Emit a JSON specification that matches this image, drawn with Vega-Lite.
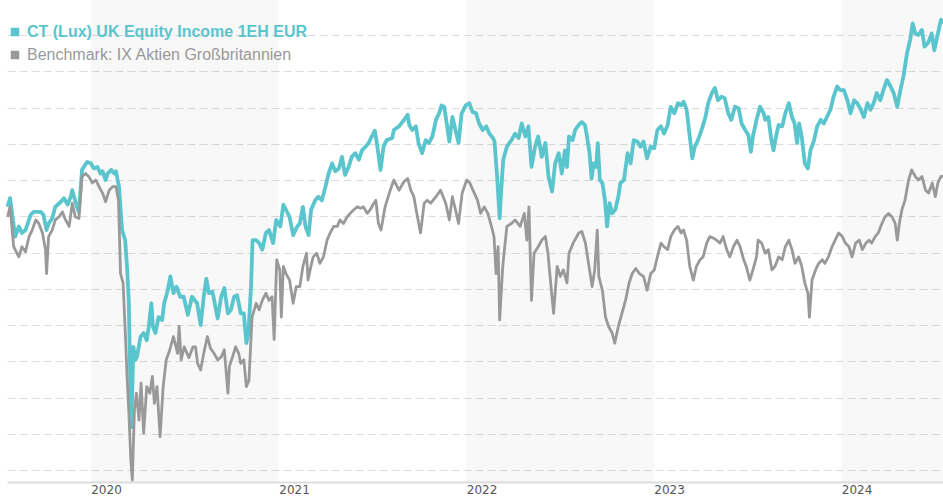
{
  "$schema": "https://vega.github.io/schema/vega-lite/v6.json",
  "width": 936,
  "height": 482,
  "padding": {"left": 7, "top": 0, "right": 0, "bottom": 18},
  "autosize": {"type": "none"},
  "background": "#ffffff",
  "config": {"view": {"stroke": null}, "font": "Liberation Sans"},
  "datasets": {
    "bands": [
      {"start": "2020-01-01", "end": "2021-01-01"},
      {"start": "2022-01-01", "end": "2023-01-01"},
      {"start": "2024-01-01", "end": "2024-07-17"}
    ],
    "fund": [
      {"date":"2019-07-23","value":101.3},{"date":"2019-07-28","value":102.5},{"date":"2019-08-07","value":97.2},{"date":"2019-08-14","value":98.6},{"date":"2019-08-20","value":97.7},{"date":"2019-08-27","value":98.1},{"date":"2019-09-06","value":100.2},{"date":"2019-09-12","value":100.6},{"date":"2019-09-26","value":100.6},{"date":"2019-10-01","value":100.2},{"date":"2019-10-07","value":98.1},{"date":"2019-10-11","value":99.0},{"date":"2019-10-18","value":99.7},{"date":"2019-10-24","value":101.3},{"date":"2019-11-04","value":102.0},{"date":"2019-11-10","value":102.5},{"date":"2019-11-17","value":101.6},{"date":"2019-11-23","value":102.7},{"date":"2019-11-26","value":103.6},{"date":"2019-12-05","value":101.3},{"date":"2019-12-09","value":100.6},{"date":"2019-12-15","value":106.4},{"date":"2019-12-25","value":107.5},
      {"date":"2020-01-01","value":107.3},{"date":"2020-01-07","value":106.6},{"date":"2020-01-14","value":106.8},{"date":"2020-01-20","value":105.9},{"date":"2020-01-24","value":106.2},{"date":"2020-01-30","value":105.0},{"date":"2020-02-03","value":105.9},{"date":"2020-02-10","value":106.4},{"date":"2020-02-16","value":105.9},{"date":"2020-02-19","value":106.2},{"date":"2020-02-25","value":104.1},{"date":"2020-03-02","value":98.1},{"date":"2020-03-08","value":96.7},{"date":"2020-03-12","value":92.6},{"date":"2020-03-15","value":88.4},{"date":"2020-03-18","value":77.4},{"date":"2020-03-20","value":70.9},{"date":"2020-03-24","value":82.0},{"date":"2020-03-28","value":80.2},{"date":"2020-03-31","value":80.6},{"date":"2020-04-07","value":83.4},{"date":"2020-04-13","value":83.9},{"date":"2020-04-19","value":82.9},{"date":"2020-04-23","value":84.8},{"date":"2020-04-28","value":88.0},{"date":"2020-05-01","value":84.8},{"date":"2020-05-06","value":83.9},{"date":"2020-05-12","value":86.1},{"date":"2020-05-19","value":85.7},{"date":"2020-05-23","value":88.0},{"date":"2020-05-30","value":89.8},{"date":"2020-06-04","value":91.7},{"date":"2020-06-10","value":89.4},{"date":"2020-06-16","value":90.3},{"date":"2020-06-23","value":88.9},{"date":"2020-06-30","value":88.9},{"date":"2020-07-08","value":86.4},{"date":"2020-07-16","value":88.9},{"date":"2020-07-26","value":88.0},{"date":"2020-08-02","value":85.0},{"date":"2020-08-08","value":88.9},{"date":"2020-08-13","value":91.4},{"date":"2020-08-18","value":89.4},{"date":"2020-08-25","value":89.6},{"date":"2020-09-04","value":85.9},{"date":"2020-09-11","value":88.9},{"date":"2020-09-17","value":90.1},{"date":"2020-09-24","value":86.6},{"date":"2020-09-30","value":87.1},{"date":"2020-10-06","value":88.9},{"date":"2020-10-12","value":89.1},{"date":"2020-10-19","value":86.6},{"date":"2020-10-25","value":86.6},{"date":"2020-10-30","value":82.5},{"date":"2020-11-03","value":83.9},{"date":"2020-11-08","value":90.3},{"date":"2020-11-11","value":96.7},{"date":"2020-11-18","value":96.7},{"date":"2020-11-24","value":96.3},{"date":"2020-11-30","value":95.4},{"date":"2020-12-07","value":97.7},{"date":"2020-12-13","value":98.1},{"date":"2020-12-21","value":96.3},{"date":"2020-12-27","value":99.5},
      {"date":"2021-01-04","value":98.6},{"date":"2021-01-10","value":101.6},{"date":"2021-01-15","value":100.9},{"date":"2021-01-22","value":99.9},{"date":"2021-01-29","value":97.4},{"date":"2021-02-06","value":98.6},{"date":"2021-02-11","value":99.0},{"date":"2021-02-17","value":101.3},{"date":"2021-02-22","value":98.6},{"date":"2021-02-28","value":97.4},{"date":"2021-03-05","value":100.9},{"date":"2021-03-13","value":102.2},{"date":"2021-03-19","value":102.7},{"date":"2021-03-26","value":102.2},{"date":"2021-04-02","value":104.1},{"date":"2021-04-08","value":105.9},{"date":"2021-04-15","value":107.3},{"date":"2021-04-21","value":106.2},{"date":"2021-04-28","value":106.6},{"date":"2021-05-04","value":108.2},{"date":"2021-05-10","value":105.7},{"date":"2021-05-17","value":106.8},{"date":"2021-05-23","value":108.2},{"date":"2021-05-30","value":108.7},{"date":"2021-06-06","value":107.8},{"date":"2021-06-12","value":109.1},{"date":"2021-06-19","value":109.6},{"date":"2021-06-25","value":110.1},{"date":"2021-07-01","value":111.0},{"date":"2021-07-07","value":111.8},{"date":"2021-07-12","value":109.6},{"date":"2021-07-18","value":106.4},{"date":"2021-07-24","value":109.6},{"date":"2021-07-30","value":110.5},{"date":"2021-08-10","value":110.8},{"date":"2021-08-13","value":111.9},{"date":"2021-08-23","value":112.4},{"date":"2021-09-02","value":113.3},{"date":"2021-09-09","value":114.0},{"date":"2021-09-12","value":112.6},{"date":"2021-09-18","value":111.9},{"date":"2021-09-25","value":112.4},{"date":"2021-09-30","value":110.1},{"date":"2021-10-07","value":108.7},{"date":"2021-10-14","value":110.5},{"date":"2021-10-20","value":110.1},{"date":"2021-10-27","value":111.0},{"date":"2021-11-03","value":113.3},{"date":"2021-11-09","value":114.2},{"date":"2021-11-14","value":115.3},{"date":"2021-11-19","value":115.1},{"date":"2021-11-24","value":112.8},{"date":"2021-11-29","value":110.3},{"date":"2021-12-05","value":113.7},{"date":"2021-12-11","value":111.9},{"date":"2021-12-17","value":110.1},{"date":"2021-12-23","value":114.2},{"date":"2021-12-31","value":115.3},
      {"date":"2022-01-07","value":115.6},{"date":"2022-01-13","value":114.4},{"date":"2022-01-20","value":114.2},{"date":"2022-01-26","value":112.8},{"date":"2022-02-02","value":111.9},{"date":"2022-02-09","value":112.4},{"date":"2022-02-15","value":111.4},{"date":"2022-02-22","value":110.8},{"date":"2022-02-25","value":110.3},{"date":"2022-03-02","value":105.5},{"date":"2022-03-07","value":99.7},{"date":"2022-03-10","value":103.6},{"date":"2022-03-14","value":107.8},{"date":"2022-03-21","value":109.6},{"date":"2022-03-30","value":110.5},{"date":"2022-04-06","value":111.4},{"date":"2022-04-13","value":110.8},{"date":"2022-04-19","value":112.8},{"date":"2022-04-26","value":111.0},{"date":"2022-05-02","value":112.4},{"date":"2022-05-08","value":106.8},{"date":"2022-05-15","value":109.6},{"date":"2022-05-21","value":111.0},{"date":"2022-05-28","value":108.2},{"date":"2022-06-04","value":110.1},{"date":"2022-06-10","value":105.5},{"date":"2022-06-17","value":103.4},{"date":"2022-06-23","value":107.3},{"date":"2022-06-30","value":108.7},{"date":"2022-07-06","value":105.9},{"date":"2022-07-12","value":109.1},{"date":"2022-07-16","value":106.8},{"date":"2022-07-20","value":111.0},{"date":"2022-07-27","value":110.5},{"date":"2022-08-01","value":111.9},{"date":"2022-08-08","value":112.6},{"date":"2022-08-14","value":113.0},{"date":"2022-08-20","value":112.6},{"date":"2022-08-24","value":111.0},{"date":"2022-08-29","value":108.7},{"date":"2022-09-02","value":105.2},{"date":"2022-09-06","value":107.3},{"date":"2022-09-11","value":106.8},{"date":"2022-09-14","value":110.1},{"date":"2022-09-18","value":105.0},{"date":"2022-09-23","value":104.6},{"date":"2022-09-28","value":102.2},{"date":"2022-10-02","value":98.6},{"date":"2022-10-07","value":101.8},{"date":"2022-10-12","value":100.4},{"date":"2022-10-18","value":100.9},{"date":"2022-10-24","value":102.7},{"date":"2022-10-28","value":104.6},{"date":"2022-11-04","value":105.0},{"date":"2022-11-11","value":108.7},{"date":"2022-11-17","value":107.3},{"date":"2022-11-23","value":110.5},{"date":"2022-11-30","value":110.3},{"date":"2022-12-06","value":109.6},{"date":"2022-12-12","value":110.3},{"date":"2022-12-19","value":108.0},{"date":"2022-12-26","value":109.6},
      {"date":"2023-01-02","value":109.4},{"date":"2023-01-08","value":111.9},{"date":"2023-01-15","value":112.4},{"date":"2023-01-21","value":111.4},{"date":"2023-01-28","value":112.6},{"date":"2023-02-03","value":115.1},{"date":"2023-02-10","value":114.2},{"date":"2023-02-17","value":115.6},{"date":"2023-02-23","value":115.3},{"date":"2023-02-28","value":115.8},{"date":"2023-03-06","value":114.7},{"date":"2023-03-12","value":111.0},{"date":"2023-03-17","value":108.0},{"date":"2023-03-22","value":109.6},{"date":"2023-03-28","value":110.5},{"date":"2023-04-04","value":111.9},{"date":"2023-04-11","value":113.5},{"date":"2023-04-17","value":115.6},{"date":"2023-04-24","value":117.0},{"date":"2023-04-30","value":117.7},{"date":"2023-05-06","value":116.0},{"date":"2023-05-13","value":116.5},{"date":"2023-05-19","value":116.3},{"date":"2023-05-26","value":114.2},{"date":"2023-06-01","value":113.3},{"date":"2023-06-08","value":115.1},{"date":"2023-06-15","value":114.9},{"date":"2023-06-21","value":112.8},{"date":"2023-06-28","value":111.9},{"date":"2023-07-04","value":111.2},{"date":"2023-07-09","value":108.9},{"date":"2023-07-13","value":111.0},{"date":"2023-07-20","value":113.3},{"date":"2023-07-27","value":115.1},{"date":"2023-08-03","value":114.2},{"date":"2023-08-06","value":113.3},{"date":"2023-08-12","value":113.7},{"date":"2023-08-18","value":110.5},{"date":"2023-08-22","value":109.1},{"date":"2023-08-27","value":111.0},{"date":"2023-09-01","value":112.6},{"date":"2023-09-08","value":112.4},{"date":"2023-09-14","value":114.2},{"date":"2023-09-21","value":115.6},{"date":"2023-09-27","value":113.7},{"date":"2023-10-02","value":112.8},{"date":"2023-10-07","value":110.1},{"date":"2023-10-11","value":112.8},{"date":"2023-10-16","value":111.0},{"date":"2023-10-22","value":107.3},{"date":"2023-10-28","value":106.6},{"date":"2023-11-02","value":109.1},{"date":"2023-11-09","value":110.5},{"date":"2023-11-15","value":112.4},{"date":"2023-11-22","value":113.3},{"date":"2023-11-28","value":112.8},{"date":"2023-12-04","value":113.7},{"date":"2023-12-11","value":114.7},{"date":"2023-12-17","value":116.5},{"date":"2023-12-24","value":117.9},{"date":"2023-12-30","value":117.4},
      {"date":"2024-01-06","value":117.4},{"date":"2024-01-13","value":116.0},{"date":"2024-01-19","value":114.2},{"date":"2024-01-26","value":116.0},{"date":"2024-02-01","value":115.6},{"date":"2024-02-08","value":114.7},{"date":"2024-02-14","value":113.7},{"date":"2024-02-21","value":115.6},{"date":"2024-02-27","value":114.7},{"date":"2024-03-04","value":115.6},{"date":"2024-03-10","value":117.0},{"date":"2024-03-17","value":116.0},{"date":"2024-03-23","value":117.4},{"date":"2024-03-30","value":118.8},{"date":"2024-04-06","value":117.9},{"date":"2024-04-12","value":117.0},{"date":"2024-04-19","value":115.1},{"date":"2024-04-25","value":117.4},{"date":"2024-05-01","value":119.3},{"date":"2024-05-08","value":122.5},{"date":"2024-05-14","value":124.3},{"date":"2024-05-19","value":126.6},{"date":"2024-05-24","value":125.2},{"date":"2024-05-30","value":125.0},{"date":"2024-06-06","value":125.7},{"date":"2024-06-11","value":123.4},{"date":"2024-06-18","value":123.9},{"date":"2024-06-25","value":125.2},{"date":"2024-06-30","value":122.9},{"date":"2024-07-07","value":125.2},{"date":"2024-07-13","value":127.1},{"date":"2024-07-17","value":126.6}
    ],
    "bench": [
      {"date":"2019-07-23","value":99.9},{"date":"2019-07-28","value":101.3},{"date":"2019-08-04","value":95.8},{"date":"2019-08-14","value":94.4},{"date":"2019-08-20","value":95.8},{"date":"2019-08-27","value":95.1},{"date":"2019-09-03","value":97.2},{"date":"2019-09-09","value":98.1},{"date":"2019-09-16","value":99.5},{"date":"2019-09-22","value":99.0},{"date":"2019-09-29","value":97.7},{"date":"2019-10-05","value":95.4},{"date":"2019-10-07","value":92.1},{"date":"2019-10-11","value":97.2},{"date":"2019-10-18","value":98.1},{"date":"2019-10-24","value":99.5},{"date":"2019-10-31","value":99.9},{"date":"2019-11-07","value":100.6},{"date":"2019-11-13","value":99.5},{"date":"2019-11-20","value":98.6},{"date":"2019-11-26","value":101.8},{"date":"2019-12-02","value":99.9},{"date":"2019-12-09","value":99.7},{"date":"2019-12-15","value":105.5},{"date":"2019-12-22","value":105.9},{"date":"2019-12-28","value":105.5},
      {"date":"2020-01-04","value":104.6},{"date":"2020-01-11","value":105.0},{"date":"2020-01-17","value":104.1},{"date":"2020-01-24","value":103.2},{"date":"2020-01-30","value":102.0},{"date":"2020-02-06","value":103.6},{"date":"2020-02-13","value":104.1},{"date":"2020-02-19","value":104.1},{"date":"2020-02-24","value":102.2},{"date":"2020-02-28","value":92.1},{"date":"2020-03-04","value":90.8},{"date":"2020-03-09","value":82.8},{"date":"2020-03-12","value":77.4},{"date":"2020-03-15","value":73.3},{"date":"2020-03-19","value":66.4},{"date":"2020-03-22","value":63.6},{"date":"2020-03-26","value":73.3},{"date":"2020-03-30","value":75.6},{"date":"2020-04-04","value":71.9},{"date":"2020-04-08","value":77.0},{"date":"2020-04-13","value":70.1},{"date":"2020-04-19","value":76.5},{"date":"2020-04-25","value":75.6},{"date":"2020-04-30","value":77.9},{"date":"2020-05-04","value":74.2},{"date":"2020-05-09","value":76.5},{"date":"2020-05-15","value":69.6},{"date":"2020-05-21","value":76.5},{"date":"2020-05-27","value":80.2},{"date":"2020-06-03","value":81.6},{"date":"2020-06-10","value":83.4},{"date":"2020-06-18","value":81.1},{"date":"2020-06-21","value":84.8},{"date":"2020-06-25","value":80.2},{"date":"2020-07-01","value":82.0},{"date":"2020-07-10","value":80.5},{"date":"2020-07-18","value":82.0},{"date":"2020-07-23","value":82.0},{"date":"2020-07-27","value":79.7},{"date":"2020-08-02","value":78.8},{"date":"2020-08-08","value":81.1},{"date":"2020-08-15","value":83.4},{"date":"2020-08-21","value":81.8},{"date":"2020-08-28","value":81.1},{"date":"2020-09-04","value":80.2},{"date":"2020-09-11","value":80.6},{"date":"2020-09-17","value":81.6},{"date":"2020-09-24","value":75.6},{"date":"2020-09-27","value":79.3},{"date":"2020-10-03","value":80.6},{"date":"2020-10-09","value":82.0},{"date":"2020-10-15","value":81.1},{"date":"2020-10-19","value":79.7},{"date":"2020-10-25","value":80.2},{"date":"2020-10-30","value":76.5},{"date":"2020-11-04","value":77.4},{"date":"2020-11-10","value":86.1},{"date":"2020-11-18","value":88.0},{"date":"2020-11-24","value":87.1},{"date":"2020-11-30","value":88.4},{"date":"2020-12-07","value":89.4},{"date":"2020-12-13","value":88.4},{"date":"2020-12-19","value":88.9},{"date":"2020-12-23","value":83.0},{"date":"2020-12-28","value":94.0},
      {"date":"2021-01-03","value":92.6},{"date":"2021-01-06","value":86.1},{"date":"2021-01-10","value":93.1},{"date":"2021-01-15","value":92.1},{"date":"2021-01-22","value":91.2},{"date":"2021-01-29","value":88.0},{"date":"2021-02-04","value":90.3},{"date":"2021-02-11","value":90.3},{"date":"2021-02-17","value":93.1},{"date":"2021-02-24","value":94.9},{"date":"2021-02-27","value":91.2},{"date":"2021-03-03","value":92.6},{"date":"2021-03-09","value":94.4},{"date":"2021-03-16","value":94.9},{"date":"2021-03-22","value":93.5},{"date":"2021-03-29","value":94.4},{"date":"2021-04-05","value":96.7},{"date":"2021-04-11","value":97.7},{"date":"2021-04-18","value":98.6},{"date":"2021-04-25","value":98.6},{"date":"2021-04-30","value":99.5},{"date":"2021-05-07","value":99.0},{"date":"2021-05-14","value":99.9},{"date":"2021-05-20","value":100.4},{"date":"2021-05-27","value":100.9},{"date":"2021-06-03","value":101.3},{"date":"2021-06-09","value":101.1},{"date":"2021-06-15","value":101.3},{"date":"2021-06-22","value":100.4},{"date":"2021-06-28","value":100.9},{"date":"2021-07-05","value":101.8},{"date":"2021-07-09","value":102.2},{"date":"2021-07-14","value":99.0},{"date":"2021-07-19","value":98.1},{"date":"2021-07-27","value":101.3},{"date":"2021-08-06","value":103.6},{"date":"2021-08-13","value":105.0},{"date":"2021-08-23","value":103.6},{"date":"2021-09-02","value":104.8},{"date":"2021-09-09","value":105.2},{"date":"2021-09-15","value":103.6},{"date":"2021-09-21","value":102.7},{"date":"2021-09-28","value":99.9},{"date":"2021-10-04","value":97.7},{"date":"2021-10-11","value":101.8},{"date":"2021-10-17","value":102.2},{"date":"2021-10-24","value":101.8},{"date":"2021-11-03","value":102.7},{"date":"2021-11-12","value":103.6},{"date":"2021-11-22","value":101.8},{"date":"2021-11-29","value":99.5},{"date":"2021-12-05","value":102.7},{"date":"2021-12-11","value":100.9},{"date":"2021-12-17","value":99.0},{"date":"2021-12-24","value":103.2},
      {"date":"2022-01-02","value":105.0},{"date":"2022-01-08","value":104.6},{"date":"2022-01-14","value":103.6},{"date":"2022-01-23","value":102.2},{"date":"2022-01-29","value":100.4},{"date":"2022-02-05","value":101.3},{"date":"2022-02-12","value":100.4},{"date":"2022-02-19","value":98.6},{"date":"2022-02-24","value":97.2},{"date":"2022-02-28","value":92.1},{"date":"2022-03-04","value":95.8},{"date":"2022-03-07","value":85.7},{"date":"2022-03-13","value":93.1},{"date":"2022-03-21","value":98.6},{"date":"2022-03-30","value":99.0},{"date":"2022-04-06","value":99.5},{"date":"2022-04-16","value":98.6},{"date":"2022-04-24","value":100.4},{"date":"2022-04-29","value":96.7},{"date":"2022-05-03","value":101.3},{"date":"2022-05-08","value":88.4},{"date":"2022-05-13","value":94.9},{"date":"2022-05-21","value":95.8},{"date":"2022-05-28","value":96.7},{"date":"2022-06-04","value":97.2},{"date":"2022-06-09","value":94.9},{"date":"2022-06-15","value":90.3},{"date":"2022-06-20","value":86.6},{"date":"2022-06-27","value":93.1},{"date":"2022-07-03","value":91.7},{"date":"2022-07-09","value":92.6},{"date":"2022-07-16","value":90.8},{"date":"2022-07-20","value":94.9},{"date":"2022-07-28","value":96.3},{"date":"2022-08-08","value":97.7},{"date":"2022-08-14","value":97.9},{"date":"2022-08-21","value":96.3},{"date":"2022-08-27","value":93.5},{"date":"2022-09-03","value":90.3},{"date":"2022-09-08","value":92.6},{"date":"2022-09-13","value":98.1},{"date":"2022-09-16","value":91.7},{"date":"2022-09-23","value":89.8},{"date":"2022-09-29","value":86.1},{"date":"2022-10-05","value":84.8},{"date":"2022-10-12","value":83.9},{"date":"2022-10-17","value":82.5},{"date":"2022-10-24","value":84.8},{"date":"2022-10-31","value":86.6},{"date":"2022-11-07","value":88.4},{"date":"2022-11-14","value":90.8},{"date":"2022-11-20","value":92.1},{"date":"2022-11-27","value":92.8},{"date":"2022-12-04","value":92.1},{"date":"2022-12-12","value":91.7},{"date":"2022-12-19","value":89.8},{"date":"2022-12-26","value":92.1},
      {"date":"2023-01-02","value":92.6},{"date":"2023-01-08","value":94.4},{"date":"2023-01-15","value":96.3},{"date":"2023-01-21","value":95.8},{"date":"2023-01-28","value":95.4},{"date":"2023-02-03","value":97.2},{"date":"2023-02-10","value":98.1},{"date":"2023-02-17","value":98.6},{"date":"2023-02-23","value":97.7},{"date":"2023-02-28","value":98.1},{"date":"2023-03-06","value":96.7},{"date":"2023-03-12","value":93.1},{"date":"2023-03-19","value":91.2},{"date":"2023-03-25","value":93.1},{"date":"2023-04-01","value":94.0},{"date":"2023-04-07","value":94.4},{"date":"2023-04-14","value":96.3},{"date":"2023-04-20","value":97.2},{"date":"2023-04-27","value":97.0},{"date":"2023-05-03","value":96.7},{"date":"2023-05-10","value":96.3},{"date":"2023-05-16","value":97.2},{"date":"2023-05-23","value":95.4},{"date":"2023-05-29","value":94.4},{"date":"2023-06-05","value":95.8},{"date":"2023-06-12","value":96.7},{"date":"2023-06-18","value":95.8},{"date":"2023-06-25","value":94.0},{"date":"2023-06-30","value":93.1},{"date":"2023-07-07","value":91.2},{"date":"2023-07-13","value":92.6},{"date":"2023-07-20","value":94.4},{"date":"2023-07-23","value":96.7},{"date":"2023-07-30","value":96.3},{"date":"2023-08-06","value":94.9},{"date":"2023-08-12","value":95.4},{"date":"2023-08-19","value":92.6},{"date":"2023-08-25","value":93.1},{"date":"2023-09-01","value":94.4},{"date":"2023-09-08","value":94.0},{"date":"2023-09-14","value":95.8},{"date":"2023-09-21","value":96.7},{"date":"2023-09-27","value":95.4},{"date":"2023-10-03","value":93.5},{"date":"2023-10-10","value":94.4},{"date":"2023-10-16","value":93.1},{"date":"2023-10-22","value":90.8},{"date":"2023-10-28","value":89.4},{"date":"2023-10-31","value":86.1},{"date":"2023-11-05","value":91.2},{"date":"2023-11-12","value":92.6},{"date":"2023-11-18","value":93.5},{"date":"2023-11-25","value":94.0},{"date":"2023-11-30","value":93.5},{"date":"2023-12-07","value":94.4},{"date":"2023-12-14","value":95.8},{"date":"2023-12-20","value":96.7},{"date":"2023-12-27","value":97.7},
      {"date":"2024-01-03","value":97.2},{"date":"2024-01-09","value":96.3},{"date":"2024-01-16","value":95.8},{"date":"2024-01-22","value":94.4},{"date":"2024-01-29","value":96.3},{"date":"2024-02-05","value":96.7},{"date":"2024-02-11","value":95.4},{"date":"2024-02-18","value":96.3},{"date":"2024-02-24","value":96.7},{"date":"2024-02-29","value":96.3},{"date":"2024-03-07","value":97.2},{"date":"2024-03-13","value":97.7},{"date":"2024-03-20","value":99.0},{"date":"2024-03-26","value":99.9},{"date":"2024-04-02","value":100.4},{"date":"2024-04-09","value":99.9},{"date":"2024-04-15","value":99.0},{"date":"2024-04-19","value":96.7},{"date":"2024-04-23","value":99.0},{"date":"2024-04-28","value":100.9},{"date":"2024-05-04","value":102.2},{"date":"2024-05-11","value":105.0},{"date":"2024-05-17","value":106.4},{"date":"2024-05-24","value":105.5},{"date":"2024-05-30","value":105.0},{"date":"2024-06-06","value":105.5},{"date":"2024-06-13","value":103.6},{"date":"2024-06-19","value":103.2},{"date":"2024-06-26","value":104.6},{"date":"2024-07-02","value":102.7},{"date":"2024-07-07","value":104.6},{"date":"2024-07-13","value":105.5},{"date":"2024-07-17","value":105.5}
    ]
  },
  "layer": [
    {
      "data": {"name": "bands"},
      "mark": {"type": "rect", "color": "#000000", "opacity": 0.028},
      "encoding": {
        "x": {
          "field": "start",
          "type": "temporal",
          "scale": {"domain": [{"year": 2019, "month": 7, "date": 22, "utc": true}, {"year": 2024, "month": 7, "date": 17, "utc": true}]},
          "axis": {
            "title": null,
            "format": "%Y",
            "tickCount": {"interval": "year", "step": 1},
            "labelAlign": "left",
            "labelFont": "DejaVu Sans",
            "labelFontSize": 12,
            "labelColor": "#555555",
            "labelPadding": 2,
            "labelFlush": false,
            "labelOverlap": false,
            "ticks": false,
            "grid": false,
            "domainColor": "#dddddd",
            "domainWidth": 2
          }
        },
        "x2": {"field": "end"}
      }
    },
    {
      "data": {"name": "fund"},
      "mark": {"type": "line", "strokeWidth": 3.8, "strokeJoin": "round"},
      "encoding": {
        "x": {"field": "date", "type": "temporal"},
        "y": {
          "field": "value",
          "type": "quantitative",
          "scale": {"domain": [63.35, 129.83], "nice": false, "zero": false},
          "axis": {
            "title": null,
            "values": [65, 70, 75, 80, 85, 90, 95, 100, 105, 110, 115, 120, 125],
            "labels": false,
            "ticks": false,
            "domain": false,
            "minExtent": 0,
            "maxExtent": 0,
            "offset": 0,
            "grid": true,
            "gridColor": "#dcdcdc",
            "gridDash": [8, 4],
            "gridWidth": 1
          }
        },
        "color": {
          "datum": "CT (Lux) UK Equity Income 1EH EUR",
          "scale": {
            "domain": ["CT (Lux) UK Equity Income 1EH EUR", "Benchmark: IX Aktien Großbritannien"],
            "range": ["#5BC5CE", "#999999"]
          },
          "legend": {
            "title": null,
            "orient": "none",
            "legendX": 0,
            "legendY": 24,
            "direction": "vertical",
            "padding": 0,
            "symbolType": "square",
            "symbolSize": 72,
            "symbolStrokeWidth": 0,
            "labelFont": "Liberation Sans",
            "labelFontSize": 16,
            "labelOffset": 4,
            "labelLimit": 0,
            "rowPadding": 7,
            "encode": {
              "symbols": {"update": {"fill": {"scale": "color", "field": "value"}, "stroke": {"value": "transparent"}, "opacity": {"value": 1}}},
              "labels": {"update": {"fill": {"scale": "color", "field": "value"}, "fontWeight": {"signal": "datum.value === 'CT (Lux) UK Equity Income 1EH EUR' ? 'bold' : 'normal'"}}}
            }
          }
        }
      }
    },
    {
      "data": {"name": "bench"},
      "mark": {"type": "line", "strokeWidth": 2.8, "strokeJoin": "round"},
      "encoding": {
        "x": {"field": "date", "type": "temporal"},
        "y": {"field": "value", "type": "quantitative"},
        "color": {"datum": "Benchmark: IX Aktien Großbritannien"}
      }
    }
  ]
}
